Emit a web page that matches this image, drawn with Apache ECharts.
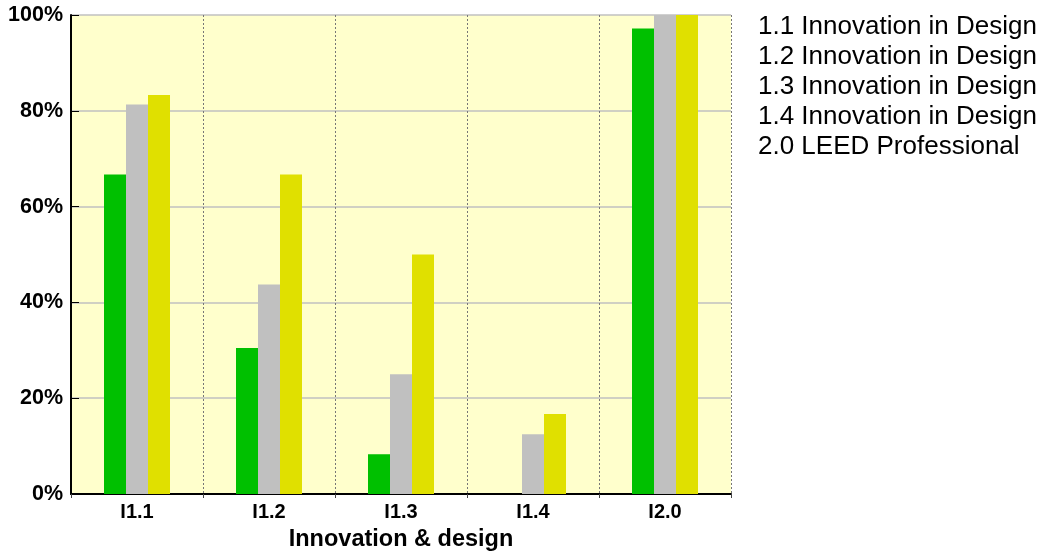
<!DOCTYPE html>
<html>
<head>
<meta charset="utf-8">
<script src="https://cdn.jsdelivr.net/npm/echarts@6/dist/echarts.min.js"></script>
<style>html,body{margin:0;padding:0;background:#fff}#c{width:1048px;height:554px}</style>
</head>
<body>
<div id="c"></div>
<script>
const categories = ['I1.1', 'I1.2', 'I1.3', 'I1.4', 'I2.0'];
const seriesGreen = [66.7, 30.5, 8.3, 0, 97.2];
const seriesGray = [81.3, 43.75, 25, 12.5, 100];
const seriesYellow = [83.3, 66.7, 50, 16.7, 100];
const legendLabels = ['1.1 Innovation in Design', '1.2 Innovation in Design', '1.3 Innovation in Design', '1.4 Innovation in Design', '2.0 LEED Professional'];
const yTicks = [0, 20, 40, 60, 80, 100];

const chart = echarts.init(document.getElementById('c'), null, {renderer: 'canvas'});
const font = '"Liberation Sans", Arial, sans-serif';
chart.setOption({
  animation: false,
  title: {
    text: legendLabels.join('\n'),
    left: 758, top: 12, padding: 0,
    textStyle: {fontFamily: font, fontSize: 26, fontWeight: 'normal', color: '#000', lineHeight: 30}
  },
  grid: {left: 71, right: 317, top: 15, bottom: 60, show: true, backgroundColor: '#FFFFCC', borderWidth: 0, outerBoundsMode: 'none', containLabel: false},
  xAxis: {
    type: 'category', data: categories,
    name: 'Innovation & design', nameLocation: 'middle', nameGap: 34,
    nameTextStyle: {fontFamily: font, fontSize: 23.5, fontWeight: 'bold', color: '#000'},
    axisLine: {lineStyle: {color: '#000', width: 2}},
    axisTick: {show: true, length: 4, lineStyle: {color: '#444'}},
    axisLabel: {fontFamily: font, fontSize: 20, fontWeight: 'bold', color: '#000', margin: 8},
    splitLine: {show: true, lineStyle: {color: '#777', type: [2, 2], width: 1}}
  },
  yAxis: {
    type: 'value', min: yTicks[0], max: yTicks[yTicks.length - 1], interval: 20,
    axisLine: {show: true, lineStyle: {color: '#000', width: 2}},
    axisTick: {show: true, inside: true, length: 8, lineStyle: {color: '#000', width: 1}},
    axisLabel: {fontFamily: font, fontSize: 21.5, fontWeight: 'bold', color: '#000', margin: 8, formatter: '{value}%'},
    splitLine: {show: true, lineStyle: {color: '#C0C0C0', width: 1.5}}
  },
  series: [
    {name: 'Series 1', type: 'bar', data: seriesGreen, barWidth: 22, barGap: '0%', itemStyle: {color: '#00C000'}},
    {name: 'Series 2', type: 'bar', data: seriesGray, barWidth: 22, barGap: '0%', itemStyle: {color: '#C0C0C0'}},
    {name: 'Series 3', type: 'bar', data: seriesYellow, barWidth: 22, barGap: '0%', itemStyle: {color: '#E0E000'}}
  ]
});
</script>
</body>
</html>
